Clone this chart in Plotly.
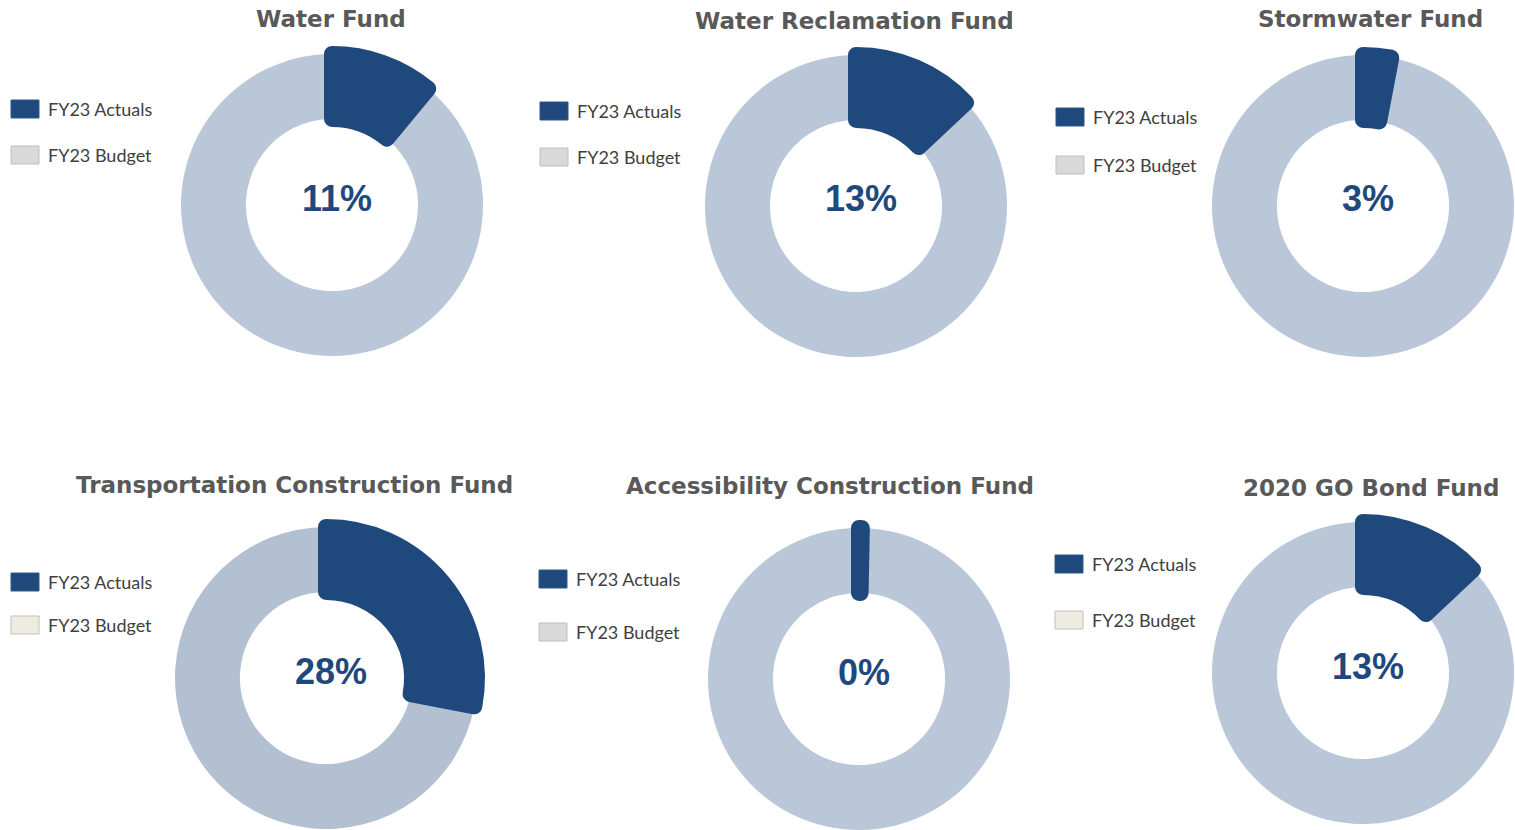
import plotly.graph_objects as go

# ---------------- data ----------------
fund_names = [
    "Water Fund",
    "Water Reclamation Fund",
    "Stormwater Fund",
    "Transportation Construction Fund",
    "Accessibility Construction Fund",
    "2020 GO Bond Fund",
]
actual_pct = [11, 13, 3, 28, 0.3, 13]          # FY23 actuals as % of FY23 budget
legend_labels = ["FY23 Actuals", "FY23 Budget"]

# ---------------- style / layout ----------------
W, H = 1515, 830
DARK = "#1F497D"
RING = ["#B9C7D8", "#B9C7D8", "#B9C7D8", "#B3C0D2", "#B9C7D8", "#B9C7D8"]
BUDGET_SWATCH = ["#D9D9D9", "#D9D9D9", "#D9D9D9", "#EEECE1", "#D9D9D9", "#EEECE1"]
R = 151
HOLE = 0.57

centers = [(332, 205), (856, 206), (1363, 206), (326, 678), (859, 679), (1363, 673)]
title_pos = [(331, 19), (855, 21), (1370, 19), (294, 485), (830, 486), (1371, 488)]
pct_offset = (5, -7)
legend_pos = [  # (swatch left x, actual row y, budget row y)
    (11, 109, 155),
    (540, 111, 157),
    (1056, 117, 165),
    (11, 582, 625),
    (539, 579, 632),
    (1055, 564, 620),
]


def px(x):
    return min(max(x / W, 0.0), 1.0)


def py(y):
    return min(max(1 - y / H, 0.0), 1.0)


fig = go.Figure()
shapes = []
annotations = []

for i, name in enumerate(fund_names):
    cx, cy = centers[i]
    cx = min(max(cx, R), W - R)
    cy = min(max(cy, R), H - R)
    dom = dict(x=[px(cx - R), px(cx + R)], y=[py(cy + R), py(cy - R)])
    remaining = 100 - actual_pct[i]

    # full budget ring
    fig.add_trace(go.Pie(
        values=[actual_pct[i], remaining],
        labels=legend_labels,
        domain=dom, hole=HOLE, sort=False, direction="clockwise", rotation=0,
        marker=dict(colors=[RING[i], RING[i]], line=dict(width=0)),
        textinfo="none", hoverinfo="skip", showlegend=False,
    ))
    # actuals slice overlay
    fig.add_trace(go.Pie(
        values=[actual_pct[i], remaining],
        labels=legend_labels,
        domain=dom, hole=HOLE, sort=False, direction="clockwise", rotation=0,
        marker=dict(colors=[DARK, "rgba(0,0,0,0)"],
                    line=dict(width=[16, 0], color=[DARK, "rgba(0,0,0,0)"])),
        textinfo="none", hoverinfo="skip", showlegend=False,
    ))

    # title
    tx, ty = title_pos[i]
    annotations.append(dict(
        x=px(tx), y=py(ty), xref="paper", yref="paper", text=f"<b>{name}</b>",
        showarrow=False, xanchor="center", yanchor="middle",
        font=dict(family="DejaVu Sans, Verdana", size=23, color="#595959"),
    ))
    # centre percentage
    annotations.append(dict(
        x=px(cx + pct_offset[0]), y=py(cy + pct_offset[1]), xref="paper", yref="paper",
        text=f"<b>{round(actual_pct[i])}%</b>", showarrow=False,
        xanchor="center", yanchor="middle",
        font=dict(family="Liberation Sans, Arial", size=36, color=DARK),
    ))

    # legend
    lx, ya, yb = legend_pos[i]
    for y, fill, border, label in [(ya, DARK, "#2F5A8A", legend_labels[0]),
                                   (yb, BUDGET_SWATCH[i], "#BFBFBF", legend_labels[1])]:
        shapes.append(dict(
            type="rect", xref="paper", yref="paper",
            x0=px(lx), x1=px(lx + 28), y0=py(y + 9), y1=py(y - 9),
            fillcolor=fill, line=dict(color=border, width=1),
        ))
        annotations.append(dict(
            x=px(lx + 35), y=py(y), xref="paper", yref="paper", text=label,
            showarrow=False, xanchor="left", yanchor="middle",
            font=dict(family="Lato, Open Sans, sans-serif", size=18, color="#404040"),
        ))

fig.update_layout(
    width=W, height=H, autosize=False,
    margin=dict(l=0, r=0, t=0, b=0),
    paper_bgcolor="white", plot_bgcolor="white",
    shapes=shapes, annotations=annotations,
)

post = """
var gd = document.getElementById('{plot_id}');
function rj(){ gd.querySelectorAll('path.surface').forEach(function(p){ p.style.strokeLinejoin='round'; }); }
rj(); gd.on && gd.on('plotly_afterplot', rj);
"""
fig.write_html("out.html", post_script=post, config={"displayModeBar": False})
